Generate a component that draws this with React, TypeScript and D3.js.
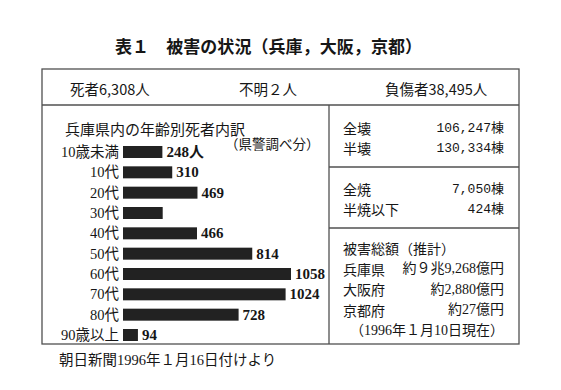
import React from "react";
import * as d3 from "d3";

// chart data
const title = "表１　被害の状況（兵庫，大阪，京都）";
const headerItems = ["死者6,308人", "不明２人", "負傷者38,495人"];

const ageGroups = ["10歳未満", "10代", "20代", "30代", "40代", "50代", "60代", "70代", "80代", "90歳以上"];
const deaths = [248, 310, 469, 250, 466, 814, 1058, 1024, 728, 94];
const deathLabels = ["248人", "310", "469", "", "466", "814", "1058", "1024", "728", "94"];

const collapseLabels = ["全壊", "半壊"];
const collapseValues = ["106,247棟", "130,334棟"];
const fireLabels = ["全焼", "半焼以下"];
const fireValues = ["7,050棟", "424棟"];
const lossTitle = "被害総額（推計）";
const lossLabels = ["兵庫県", "大阪府", "京都府"];
const lossValues = ["約９兆9,268億円", "約2,880億円", "約27億円"];
const lossNote = "（1996年１月10日現在）";

const chartTitle = "兵庫県内の年齢別死者内訳";
const chartNote = "（県警調べ分）";
const source = "朝日新聞1996年１月16日付けより";

const W = 561;
const H = 390;
const box = { left: 42, top: 69, right: 519, bottom: 344 };
const headerBottom = 105;
const split = 329;

const sans = "'Noto Sans CJK JP', 'Noto Sans', sans-serif";
const serif = "'Liberation Serif', 'DejaVu Serif', 'Noto Sans CJK JP', serif";
const mono = "'Liberation Mono', 'Noto Sans CJK JP', monospace";
const ink = "#161616";
const rule = "#505050";

const App = () => {
  const x = d3.scaleLinear().domain([0, d3.max(deaths) as number]).range([123, 291]);
  const y = d3.scalePoint<string>().domain(ageGroups).range([152, 335]);
  const barH = 12;

  // rows in the right column
  const rightRows = d3.scalePoint<number>().domain([0, 1]).range([128, 148]);
  const fireRows = d3.scalePoint<number>().domain([0, 1]).range([189, 209]);
  const lossRows = d3.scalePoint<number>().domain([0, 1, 2, 3, 4]).range([248, 330]);

  const headerX = [70, 239, 385];

  return (
    <svg
      width={W}
      height={H}
      style={{ position: "absolute", left: 0, top: 0, background: "#fff" }}
    >
      <rect width={W} height={H} fill="#fff" />
      <text
        x={115}
        y={45}
        dominantBaseline="central"
        fontFamily={sans}
        fontWeight={700}
        fontSize={17}
        fill={ink}
        textLength={307}
      >
        {title}
      </text>

      {/* table frame */}
      <g stroke={rule} strokeWidth={1.3} fill="none">
        <rect x={box.left} y={box.top} width={box.right - box.left} height={box.bottom - box.top} />
        <line x1={box.left} x2={box.right} y1={headerBottom} y2={headerBottom} />
        <line x1={split} x2={split} y1={headerBottom} y2={box.bottom} />
        <line x1={split} x2={box.right} y1={167} y2={167} />
        <line x1={split} x2={box.right} y1={228} y2={228} />
      </g>

      {headerItems.map((t, i) => (
        <text
          key={t}
          x={headerX[i]}
          y={88}
          dominantBaseline="central"
          fontFamily={sans}
          fontSize={14.5}
          fill={ink}
        >
          {t}
        </text>
      ))}

      {/* age breakdown bars */}
      <text x={65} y={128} dominantBaseline="central" fontFamily={sans} fontSize={15} fill={ink}>
        {chartTitle}
      </text>
      <text x={225} y={144} dominantBaseline="central" fontFamily={serif} fontSize={13.5} fill={ink}>
        {chartNote}
      </text>
      {ageGroups.map((a, i) => (
        <g key={a}>
          <text
            x={119}
            y={y(a)}
            textAnchor="end"
            dominantBaseline="central"
            fontFamily={serif}
            fontSize={14.5}
            fill={ink}
          >
            {a}
          </text>
          <rect
            x={x(0)}
            y={(y(a) as number) - barH / 2}
            width={x(deaths[i]) - x(0)}
            height={barH}
            fill="#222"
          />
          {deathLabels[i] && (
            <text
              x={x(deaths[i]) + 4}
              y={y(a)}
              dominantBaseline="central"
              fontFamily={serif}
              fontWeight={700}
              fontSize={15}
              fill={ink}
            >
              {deathLabels[i]}
            </text>
          )}
        </g>
      ))}

      {/* building damage */}
      {collapseLabels.map((t, i) => (
        <g key={t}>
          <text x={343} y={rightRows(i)} dominantBaseline="central" fontFamily={sans} fontSize={14} fill={ink}>
            {t}
          </text>
          <text x={504} y={rightRows(i)} textAnchor="end" dominantBaseline="central" fontFamily={mono} fontSize={13} fill={ink}>
            {collapseValues[i]}
          </text>
        </g>
      ))}
      {fireLabels.map((t, i) => (
        <g key={t}>
          <text x={343} y={fireRows(i)} dominantBaseline="central" fontFamily={sans} fontSize={14} fill={ink}>
            {t}
          </text>
          <text x={504} y={fireRows(i)} textAnchor="end" dominantBaseline="central" fontFamily={mono} fontSize={13} fill={ink}>
            {fireValues[i]}
          </text>
        </g>
      ))}

      {/* estimated losses */}
      <text x={343} y={lossRows(0)} dominantBaseline="central" fontFamily={sans} fontSize={14} fill={ink}>
        {lossTitle}
      </text>
      {lossLabels.map((t, i) => (
        <g key={t}>
          <text x={343} y={lossRows(i + 1)} dominantBaseline="central" fontFamily={sans} fontSize={14} fill={ink}>
            {t}
          </text>
          <text x={504} y={lossRows(i + 1)} textAnchor="end" dominantBaseline="central" fontFamily={serif} fontSize={14} fill={ink}>
            {lossValues[i]}
          </text>
        </g>
      ))}
      <text x={504} y={lossRows(4)} textAnchor="end" dominantBaseline="central" fontFamily={serif} fontSize={14} fill={ink}>
        {lossNote}
      </text>

      <text x={59} y={360} dominantBaseline="central" fontFamily={serif} fontSize={14.5} fill={ink}>
        {source}
      </text>
    </svg>
  );
};

export default App;
